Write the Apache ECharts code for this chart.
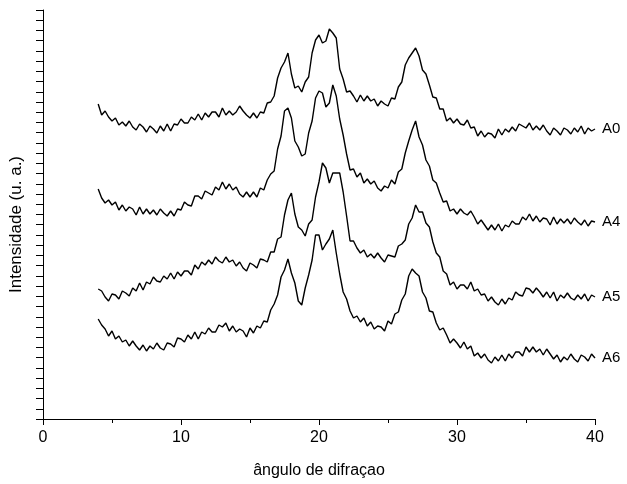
<!DOCTYPE html>
<html>
<head>
<meta charset="utf-8">
<script src="https://cdn.jsdelivr.net/npm/echarts@6/dist/echarts.min.js"></script>
<style>
html, body { margin: 0; padding: 0; background: #fff; }
#chart { width: 627px; height: 484px; }
</style>
</head>
<body>
<div id="chart"></div>
<script>
// angulo de difracao (2 theta), passo 0.25
var angles = [
	4, 4.25, 4.5, 4.75, 5, 5.25, 5.5, 5.75,
	6, 6.25, 6.5, 6.75, 7, 7.25, 7.5, 7.75,
	8, 8.25, 8.5, 8.75, 9, 9.25, 9.5, 9.75,
	10, 10.25, 10.5, 10.75, 11, 11.25, 11.5, 11.75,
	12, 12.25, 12.5, 12.75, 13, 13.25, 13.5, 13.75,
	14, 14.25, 14.5, 14.75, 15, 15.25, 15.5, 15.75,
	16, 16.25, 16.5, 16.75, 17, 17.25, 17.5, 17.75,
	18, 18.25, 18.5, 18.75, 19, 19.25, 19.5, 19.75,
	20, 20.25, 20.5, 20.75, 21, 21.25, 21.5, 21.75,
	22, 22.25, 22.5, 22.75, 23, 23.25, 23.5, 23.75,
	24, 24.25, 24.5, 24.75, 25, 25.25, 25.5, 25.75,
	26, 26.25, 26.5, 26.75, 27, 27.25, 27.5, 27.75,
	28, 28.25, 28.5, 28.75, 29, 29.25, 29.5, 29.75,
	30, 30.25, 30.5, 30.75, 31, 31.25, 31.5, 31.75,
	32, 32.25, 32.5, 32.75, 33, 33.25, 33.5, 33.75,
	34, 34.25, 34.5, 34.75, 35, 35.25, 35.5, 35.75,
	36, 36.25, 36.5, 36.75, 37, 37.25, 37.5, 37.75,
	38, 38.25, 38.5, 38.75, 39, 39.25, 39.5, 39.75,
	40
];
// intensidades (u. a.), curvas deslocadas
var a0 = [
	315, 304, 308, 302, 298, 301, 294, 297,
	293, 298, 292, 289, 295, 292, 287, 293,
	290, 286, 293, 288, 295, 288, 295, 294,
	300, 296, 296, 302, 299, 305, 299, 306,
	302, 307, 307, 302, 311, 304, 308, 304,
	307, 313, 308, 304, 301, 306, 301, 307,
	306, 316, 317, 323, 341, 351, 357, 366,
	345, 331, 333, 327, 337, 342, 366, 379,
	384, 376, 378, 390, 386, 381, 350, 340,
	327, 328, 323, 317, 324, 318, 323, 318,
	320, 313, 318, 315, 313, 321, 320, 332,
	337, 354, 361, 366, 371, 363, 349, 345,
	334, 322, 321, 310, 310, 298, 301, 296,
	300, 295, 294, 299, 291, 292, 283, 288,
	282, 286, 285, 281, 290, 284, 290, 287,
	292, 288, 295, 293, 291, 296, 289, 293,
	289, 294, 288, 284, 291, 288, 284, 291,
	289, 285, 291, 287, 293, 285, 291, 288,
	290
];
var a4 = [
	230, 221, 216, 219, 214, 217, 209, 214,
	208, 212, 210, 204, 212, 205, 210, 205,
	209, 204, 210, 206, 203, 208, 203, 210,
	209, 217, 214, 213, 223, 223, 220, 228,
	226, 224, 232, 229, 237, 230, 235, 229,
	232, 225, 222, 227, 222, 227, 222, 231,
	229, 239, 245, 248, 270, 283, 308, 311,
	301, 278, 272, 263, 265, 286, 298, 321,
	328, 326, 312, 316, 334, 323, 300, 284,
	265, 249, 250, 242, 246, 236, 240, 235,
	238, 231, 228, 233, 231, 239, 235, 247,
	250, 266, 278, 289, 298, 282, 274, 259,
	253, 239, 236, 226, 217, 218, 208, 210,
	205, 210, 206, 204, 208, 202, 195, 199,
	194, 189, 194, 189, 195, 188, 194, 192,
	198, 195, 195, 202, 199, 205, 198, 203,
	197, 201, 200, 194, 202, 195, 200, 196,
	200, 195, 201, 197, 194, 199, 193, 198,
	197
];
var a5 = [
	130, 128, 122, 118, 125, 124, 120, 128,
	126, 123, 131, 128, 136, 129, 137, 135,
	142, 138, 137, 143, 140, 146, 140, 147,
	143, 148, 148, 144, 154, 150, 157, 154,
	159, 155, 162, 158, 156, 162, 157, 159,
	153, 157, 151, 148, 156, 154, 151, 160,
	159, 157, 167, 167, 180, 182, 204, 219,
	226, 205, 192, 189, 183, 195, 199, 222,
	237, 256, 251, 236, 246, 246, 246, 227,
	203, 178, 178, 171, 166, 169, 162, 165,
	161, 166, 161, 157, 164, 163, 162, 173,
	175, 179, 195, 201, 214, 207, 207, 196,
	192, 177, 166, 162, 148, 145, 134, 137,
	130, 134, 134, 130, 137, 128, 130, 124,
	125, 118, 122, 117, 114, 120, 115, 121,
	119, 127, 124, 123, 131, 130, 126, 131,
	127, 122, 127, 121, 127, 118, 124, 121,
	126, 121, 119, 124, 120, 125, 118, 124,
	122
];
var a6 = [
	100, 94, 90, 83, 88, 80, 83, 77,
	79, 73, 78, 73, 69, 74, 68, 73,
	70, 76, 71, 69, 76, 75, 72, 81,
	80, 77, 84, 80, 87, 80, 87, 85,
	91, 87, 87, 94, 92, 96, 88, 93,
	87, 90, 88, 82, 91, 86, 93, 91,
	98, 97, 109, 115, 124, 142, 149, 160,
	146, 136, 118, 114, 131, 144, 159, 184,
	184, 169, 175, 180, 189, 166, 145, 127,
	120, 108, 101, 103, 97, 101, 93, 97,
	90, 93, 92, 88, 98, 95, 105, 107,
	119, 125, 143, 150, 146, 143, 127, 121,
	108, 107, 96, 89, 91, 84, 76, 80,
	76, 71, 77, 70, 73, 63, 66, 61,
	65, 59, 56, 62, 58, 64, 58, 65,
	61, 67, 67, 63, 72, 67, 72, 67,
	70, 64, 70, 65, 60, 64, 57, 62,
	59, 65, 60, 57, 64, 62, 58, 65,
	61
];
var sampleNames = ['A0', 'A4', 'A5', 'A6'];
var sampleData = [a0, a4, a5, a6];

var fontName = 'Liberation Sans, Arial, sans-serif';
var series = [];
for (var i = 0; i < sampleData.length; i++) {
	var pts = [];
	for (var j = 0; j < angles.length; j++) {
		pts.push([angles[j], sampleData[i][j]]);
	}
	series.push({
		name: sampleNames[i],
		type: 'line',
		data: pts,
		showSymbol: false,
		lineStyle: { color: '#000', width: 1.4 },
		endLabel: {
			show: true,
			formatter: '{a}',
			color: '#000',
			fontSize: 15,
			fontFamily: fontName,
			distance: 7
		}
	});
}

var myChart = echarts.init(document.getElementById('chart'));
var option = {
	animation: false,
	backgroundColor: '#fff',
	grid: { left: 43, right: 32, top: 10, bottom: 65 },
	xAxis: {
		type: 'value',
		min: 0,
		max: 40,
		interval: 10,
		name: 'ângulo de difraçao',
		nameLocation: 'middle',
		nameGap: 44,
		nameTextStyle: { color: '#000', fontSize: 16, fontFamily: fontName },
		axisLine: { lineStyle: { color: '#000', width: 1 } },
		axisTick: { length: 6, lineStyle: { color: '#000' } },
		minorTick: { show: true, splitNumber: 2, length: 4, lineStyle: { color: '#000' } },
		axisLabel: { color: '#000', fontSize: 16, fontFamily: fontName, margin: 11 },
		splitLine: { show: false }
	},
	yAxis: {
		type: 'value',
		min: 0,
		max: 409,
		interval: 10.225,
		name: 'Intensidade (u. a.)',
		nameLocation: 'middle',
		nameGap: 18,
		nameTextStyle: { color: '#000', fontSize: 17, fontFamily: fontName, padding: [0, 20, 0, 0] },
		axisLine: { show: true, lineStyle: { color: '#000', width: 1 } },
		axisTick: { show: true, length: 7, lineStyle: { color: '#000' } },
		axisLabel: { show: false },
		splitLine: { show: false }
	},
	series: series
};
myChart.setOption(option);
</script>
</body>
</html>
